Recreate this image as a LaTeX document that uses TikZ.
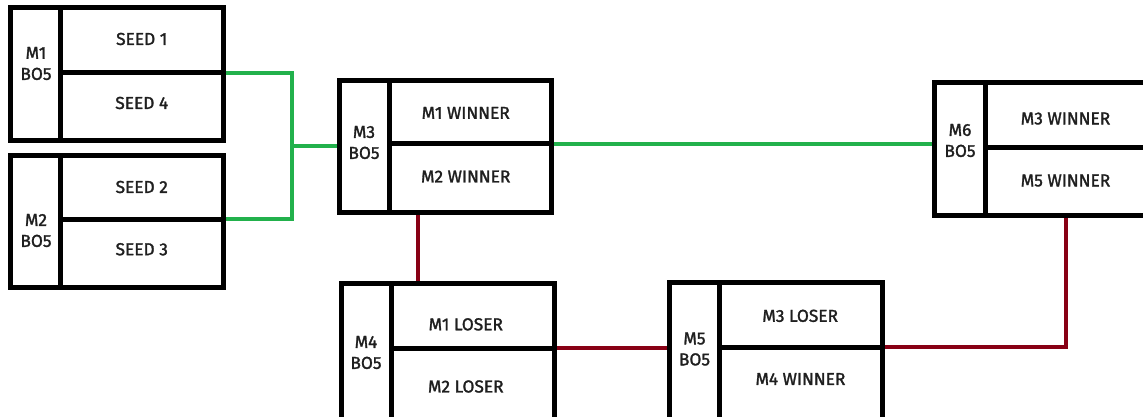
\documentclass[tikz,border=0pt]{standalone}
\usepackage{fontspec}
\setmainfont{Fira Sans}[FakeBold=1.6]
\usetikzlibrary{backgrounds}
\definecolor{wgreen}{HTML}{22B14C}
\definecolor{lred}{HTML}{880015}
\tikzset{
  cell/.style={draw=black, line width=5pt, rectangle, inner sep=0pt, outer sep=0pt, fill=white},
  celltext/.style={font=\fontsize{17.3}{17.3}\selectfont, text=black!88},
  labtext/.style={font=\fontsize{17.3}{21}\selectfont, text=black!88, align=center, inner sep=0pt},
  winline/.style={draw=wgreen, line width=4pt},
  loseline/.style={draw=lred, line width=4pt},
}
% #1 name, #2 x1, #3 xl, #4 x2, #5 y1, #6 ydiv, #7 y2, #8 label x, #9 label y
\newcommand{\matchbox}[9]{%
  \node[cell, minimum width={(#3)-(#2)}, minimum height={(#7)-(#5)}] (#1lab) at ({((#2)+(#3))/2},{((#5)+(#7))/2}) {};
  \node[cell, minimum width={(#4)-(#3)}, minimum height={(#6)-(#5)}] (#1top) at ({((#3)+(#4))/2},{((#5)+(#6))/2}) {};
  \node[cell, minimum width={(#4)-(#3)}, minimum height={(#7)-(#6)}] (#1bot) at ({((#3)+(#4))/2},{((#6)+(#7))/2}) {};
  \coordinate (#1labpos) at (#8,#9);
}
\begin{document}
\begin{tikzpicture}[x=1pt,y=-1pt]
\useasboundingbox (0,0) rectangle (1143,416);
\clip (0,0) rectangle (1143,416);
\matchbox{mA}{10}{60.5}{223}{7.5}{72.5}{140.5}{36}{63.5}
\matchbox{mB}{10}{60.5}{223}{155}{219}{287.5}{36}{230.5}
\matchbox{mC}{339.3}{389}{551.3}{80}{143.7}{212.7}{364}{142.5}
\matchbox{mD}{341.3}{391}{554}{283.7}{348}{420}{366}{352.5}
\matchbox{mE}{669.3}{719.7}{882.7}{282.7}{347}{420}{694.5}{349}
\matchbox{mF}{934.7}{985}{1152}{82.7}{147.3}{215.3}{960}{140.5}
% texts
\node[labtext] (tA) at (mAlabpos) {M1\\BO5};
\node[labtext] (tB) at (mBlabpos) {M2\\BO5};
\node[labtext] (tC) at (mClabpos) {M3\\BO5};
\node[labtext] (tD) at (mDlabpos) {M4\\BO5};
\node[labtext] (tE) at (mElabpos) {M5\\BO5};
\node[labtext] (tF) at (mFlabpos) {M6\\BO5};
\node[celltext] (sA1) at ([yshift=1pt]mAtop) {SEED 1};
\node[celltext] (sA2) at ([yshift=3.5pt]mAbot) {SEED 4};
\node[celltext] (sB1) at (mBtop) {SEED 2};
\node[celltext] (sB2) at ([yshift=4pt]mBbot) {SEED 3};
\node[celltext] (sC1) at ([xshift=-4.4pt,yshift=-1pt]mCtop) {M1 WINNER};
\node[celltext] (sC2) at ([xshift=-4.4pt,yshift=1.7pt]mCbot) {M2 WINNER};
\node[celltext] (sD1) at ([xshift=-6.7pt,yshift=-8.5pt]mDtop) {M1 LOSER};
\node[celltext] (sD2) at ([xshift=-6.7pt,yshift=-2.5pt]mDbot) {M2 LOSER};
\node[celltext] (sE1) at ([xshift=-1pt,yshift=-1pt]mEtop) {M3 LOSER};
\node[celltext] (sE2) at ([xshift=-0.7pt,yshift=4.5pt]mEbot) {M4 WINNER};
\node[celltext] (sF1) at ([xshift=-3pt,yshift=-3.5pt]mFtop) {M3 WINNER};
\node[celltext] (sF2) at ([xshift=-3pt,yshift=0.8pt]mFbot) {M5 WINNER};
\begin{pgfonlayer}{background}
  \coordinate (jn) at (292,146);
  \draw[winline] (mAtop.south east) -| (jn) |- (mBtop.south east);
  \draw[winline] (jn) -- (mClab.west |- jn);
  \draw[winline] (mCtop.south east) -- (mFlab.west |- mCtop.south east);
  \draw[loseline] ([xshift=29pt]mCbot.south west) -- ([xshift=27pt]mDtop.north west);
  \draw[loseline] (mDtop.south east) -- (mElab.west |- mDtop.south east);
  \draw[loseline] (mEtop.south east) -| ([xshift=81pt]mFbot.south west);
\end{pgfonlayer}
\end{tikzpicture}
\end{document}
